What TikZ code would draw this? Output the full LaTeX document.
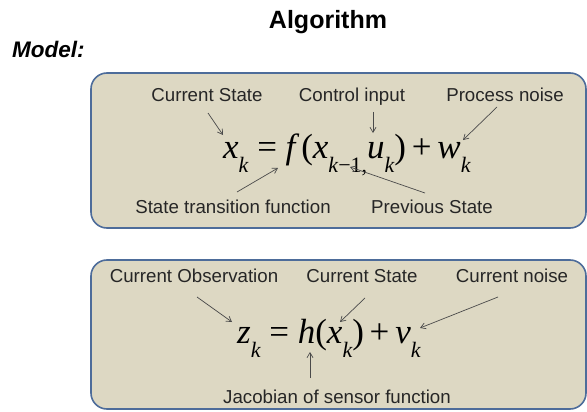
\documentclass[tikz,border=0pt]{standalone}
\usepackage{fontspec}
\setmainfont{Liberation Sans}
\newfontfamily\eqfont{Liberation Serif}
\usetikzlibrary{arrows.meta}
\definecolor{boxfill}{HTML}{DDD8C3}
\definecolor{boxline}{HTML}{4D6C9A}
\definecolor{arrcol}{HTML}{4A4A4A}
\definecolor{txtcol}{HTML}{262626}
\newcommand\mysb[1]{\raisebox{-0.42em}{\fontsize{22}{22}\selectfont\itshape #1}}
\tikzset{
  panel/.style={draw=boxline, line width=1.6pt, fill=boxfill, rounded corners=16pt},
  lbl/.style={font=\fontsize{18.7}{21}\selectfont, text=txtcol, inner sep=0pt, anchor=base},
  eqn/.style={font=\eqfont\fontsize{35}{35}\selectfont, text=black, inner sep=0pt},
  arr/.style={draw=arrcol, line width=0.7pt, -{Straight Barb[length=5pt,width=6pt]}},
}
\begin{document}
\begin{tikzpicture}[x=1pt,y=-1pt]
\useasboundingbox (0,0) rectangle (587,412);
% title
\node[inner sep=0pt, anchor=base, font=\bfseries\fontsize{25}{25}\selectfont] (title) at (328,29) {Algorithm};
\node[inner sep=0pt, anchor=base west, font=\bfseries\itshape\fontsize{22.5}{23}\selectfont] (model) at (12,58) {Model:};
% panels
\draw[panel] (91,73) rectangle (586,228);
\draw[panel] (91,260) rectangle (586,409);
% equation 1
\node[eqn, anchor=base west] (eq1) at (223,158)
  {\itshape x\mysb{k}\upshape\ =\ \itshape f\,\upshape(\itshape x\mysb{k\upshape{−}1,}u\mysb{k}\upshape)\,+\,\itshape w\mysb{k}};
\node[lbl] (cs1) at (207,102) {Current State};
\node[lbl] (ci) at (352,102) {Control input};
\node[lbl] (pn) at (505,102) {Process noise};
\node[lbl] (stf) at (233,213) {State transition function};
\node[lbl] (ps) at (432,213) {Previous State};
\coordinate (xk) at (223,135);
\coordinate (uk) at (373,133);
\coordinate (wk) at (463,140);
\coordinate (ff) at (278,168);
\coordinate (xkm) at (350,167);
\draw[arr] ([shift={(1,11)}]cs1.base) -- (xk);
\draw[arr] ([shift={(21,10)}]ci.base) -- (uk);
\draw[arr] ([shift={(-8,5)}]pn.base) -- (wk);
\draw[arr] ([shift={(4,-21)}]stf.base) -- (ff);
\draw[arr] ([shift={(-7,-20)}]ps.base) -- (xkm);
% equation 2
\node[eqn, anchor=base west] (eq2) at (237,343)
  {\itshape z\mysb{k}\upshape\ =\ \itshape h\upshape(\itshape x\mysb{k}\upshape)\,+\,\itshape v\mysb{k}};
\node[lbl] (co) at (194,282) {Current Observation};
\node[lbl] (cs2) at (362,282) {Current State};
\node[lbl] (cn) at (512,282) {Current noise};
\node[lbl] (jac) at (337,403) {Jacobian of sensor function};
\coordinate (zk) at (232,322);
\coordinate (xk2) at (340,322);
\coordinate (vk) at (420,328);
\coordinate (hh) at (310,352);
\draw[arr] ([shift={(3,15)}]co.base) -- (zk);
\draw[arr] ([shift={(3,16)}]cs2.base) -- (xk2);
\draw[arr] ([shift={(-14,15)}]cn.base) -- (vk);
\draw[arr] ([shift={(-27,-25)}]jac.base) -- (hh);
\end{tikzpicture}
\end{document}
